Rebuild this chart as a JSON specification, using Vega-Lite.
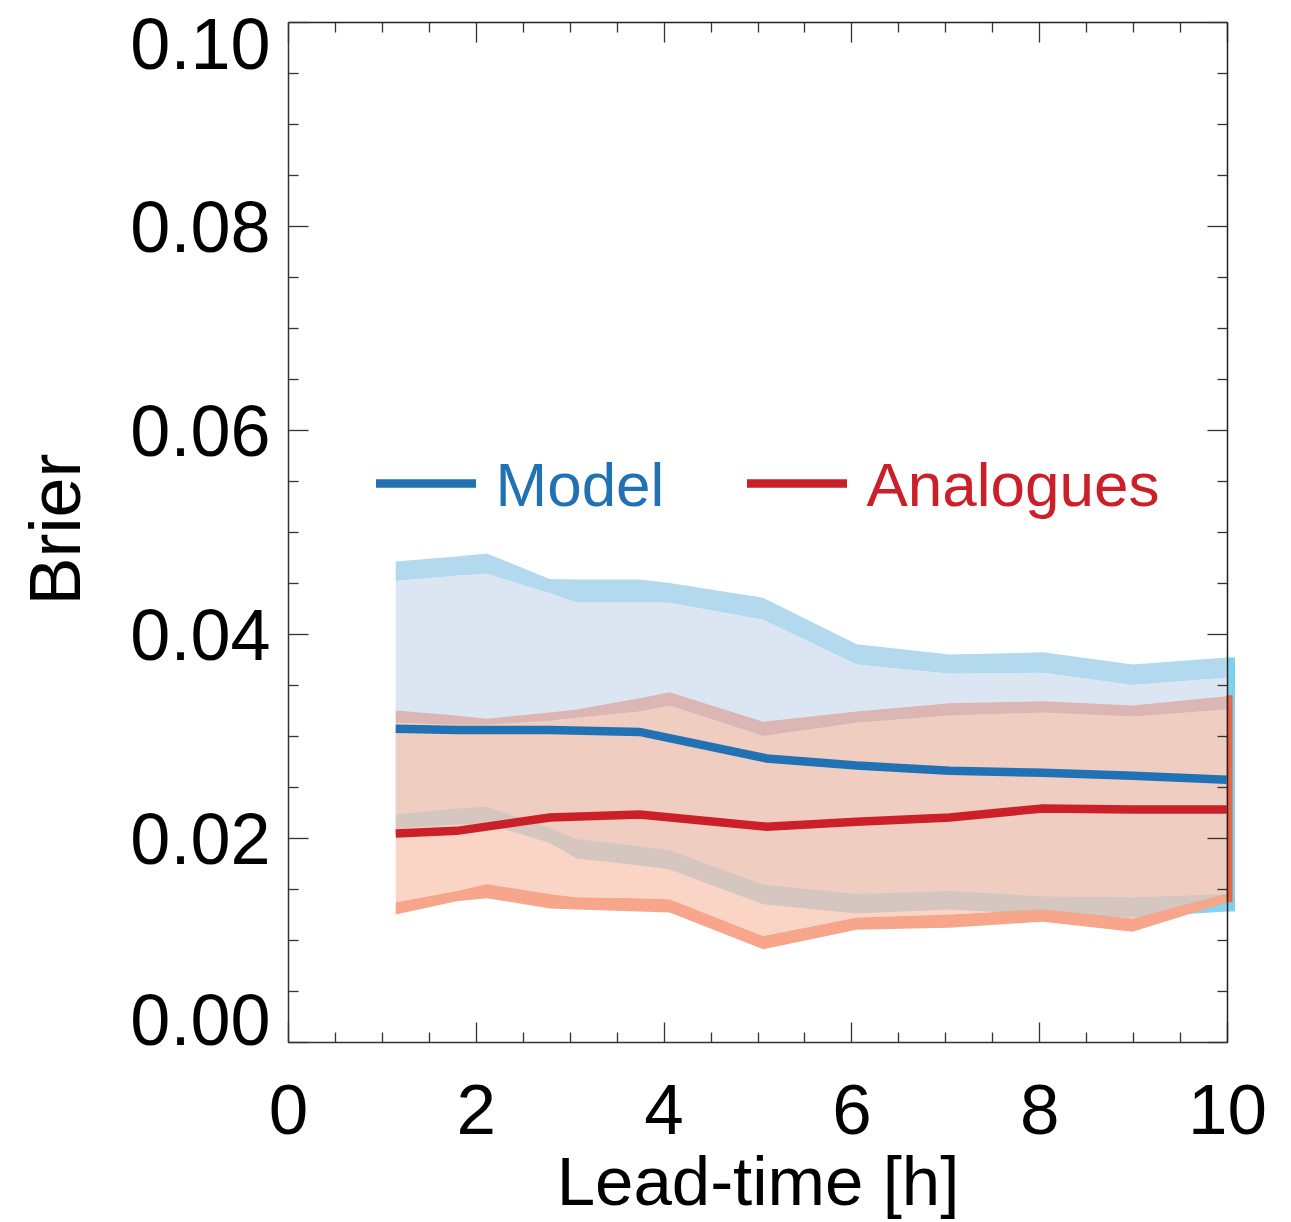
{
  "$schema": "https://vega.github.io/schema/vega-lite/v6.json",
  "width": 939,
  "height": 1020,
  "autosize": "none",
  "padding": {"left": 288, "top": 22, "right": 64, "bottom": 180},
  "background": "white",
  "config": {"view": {"stroke": null}, "font": "Liberation Sans"},
  "resolve": {"axis": {"x": "independent", "y": "independent"}},
  "datasets": {
    "bands": [
      {"s":"Model","part":"upper","x":1.147,"top":0.0471,"bot":0.0452},
      {"s":"Model","part":"upper","x":1.797,"top":0.0476,"bot":0.0457},
      {"s":"Model","part":"upper","x":2.117,"top":0.0479,"bot":0.0459},
      {"s":"Model","part":"upper","x":2.787,"top":0.0454,"bot":0.0440},
      {"s":"Model","part":"upper","x":3.074,"top":0.04535,"bot":0.0431},
      {"s":"Model","part":"upper","x":3.745,"top":0.04535,"bot":0.0431},
      {"s":"Model","part":"upper","x":4.065,"top":0.0450,"bot":0.04306},
      {"s":"Model","part":"upper","x":5.06,"top":0.04355,"bot":0.0414},
      {"s":"Model","part":"upper","x":6.056,"top":0.0390,"bot":0.0370},
      {"s":"Model","part":"upper","x":7.047,"top":0.0380,"bot":0.0361},
      {"s":"Model","part":"upper","x":8.038,"top":0.0382,"bot":0.0362},
      {"s":"Model","part":"upper","x":8.996,"top":0.0370,"bot":0.0350},
      {"s":"Model","part":"upper","x":9.997,"top":0.0377,"bot":0.0357},
      {"s":"Model","part":"lower","x":1.147,"top":0.0223,"bot":0.0209},
      {"s":"Model","part":"lower","x":1.797,"top":0.0229,"bot":0.0213},
      {"s":"Model","part":"lower","x":2.117,"top":0.0231,"bot":0.0214},
      {"s":"Model","part":"lower","x":2.787,"top":0.0210,"bot":0.0195},
      {"s":"Model","part":"lower","x":3.074,"top":0.0199,"bot":0.0180},
      {"s":"Model","part":"lower","x":3.745,"top":0.0192,"bot":0.0173},
      {"s":"Model","part":"lower","x":4.065,"top":0.0188,"bot":0.0169},
      {"s":"Model","part":"lower","x":5.06,"top":0.01545,"bot":0.0135},
      {"s":"Model","part":"lower","x":6.056,"top":0.0145,"bot":0.0126},
      {"s":"Model","part":"lower","x":7.047,"top":0.0148,"bot":0.0130},
      {"s":"Model","part":"lower","x":8.038,"top":0.0143,"bot":0.0125},
      {"s":"Model","part":"lower","x":8.996,"top":0.0142,"bot":0.0122},
      {"s":"Model","part":"lower","x":9.997,"top":0.0145,"bot":0.0128},
      {"s":"Model","part":"fill","x":1.147,"top":0.0452,"bot":0.0223},
      {"s":"Model","part":"fill","x":1.797,"top":0.0457,"bot":0.0229},
      {"s":"Model","part":"fill","x":2.117,"top":0.0459,"bot":0.0231},
      {"s":"Model","part":"fill","x":2.787,"top":0.0440,"bot":0.0210},
      {"s":"Model","part":"fill","x":3.074,"top":0.0431,"bot":0.0199},
      {"s":"Model","part":"fill","x":3.745,"top":0.0431,"bot":0.0192},
      {"s":"Model","part":"fill","x":4.065,"top":0.04306,"bot":0.0188},
      {"s":"Model","part":"fill","x":5.06,"top":0.0414,"bot":0.01545},
      {"s":"Model","part":"fill","x":6.056,"top":0.0370,"bot":0.0145},
      {"s":"Model","part":"fill","x":7.047,"top":0.0361,"bot":0.0148},
      {"s":"Model","part":"fill","x":8.038,"top":0.0362,"bot":0.0143},
      {"s":"Model","part":"fill","x":8.996,"top":0.0350,"bot":0.0142},
      {"s":"Model","part":"fill","x":9.997,"top":0.0357,"bot":0.0145},
      {"s":"Analogues","part":"upper","x":1.147,"top":0.0325,"bot":0.0313},
      {"s":"Analogues","part":"upper","x":1.797,"top":0.0320,"bot":0.0311},
      {"s":"Analogues","part":"upper","x":2.117,"top":0.0317,"bot":0.0311},
      {"s":"Analogues","part":"upper","x":2.787,"top":0.0323,"bot":0.0315},
      {"s":"Analogues","part":"upper","x":3.074,"top":0.0326,"bot":0.0318},
      {"s":"Analogues","part":"upper","x":3.745,"top":0.0337,"bot":0.0324},
      {"s":"Analogues","part":"upper","x":4.065,"top":0.0343,"bot":0.0330},
      {"s":"Analogues","part":"upper","x":5.06,"top":0.0314,"bot":0.0300},
      {"s":"Analogues","part":"upper","x":6.056,"top":0.0324,"bot":0.0313},
      {"s":"Analogues","part":"upper","x":7.047,"top":0.0332,"bot":0.0320},
      {"s":"Analogues","part":"upper","x":8.038,"top":0.0334,"bot":0.0323},
      {"s":"Analogues","part":"upper","x":8.996,"top":0.0330,"bot":0.0319},
      {"s":"Analogues","part":"upper","x":9.997,"top":0.0339,"bot":0.0326},
      {"s":"Analogues","part":"lower","x":1.147,"top":0.0137,"bot":0.0125},
      {"s":"Analogues","part":"lower","x":1.797,"top":0.0148,"bot":0.0138},
      {"s":"Analogues","part":"lower","x":2.117,"top":0.0155,"bot":0.0141},
      {"s":"Analogues","part":"lower","x":2.787,"top":0.0145,"bot":0.0131},
      {"s":"Analogues","part":"lower","x":3.074,"top":0.0142,"bot":0.0130},
      {"s":"Analogues","part":"lower","x":3.745,"top":0.0141,"bot":0.0128},
      {"s":"Analogues","part":"lower","x":4.065,"top":0.0140,"bot":0.0127},
      {"s":"Analogues","part":"lower","x":5.06,"top":0.0104,"bot":0.0091},
      {"s":"Analogues","part":"lower","x":6.056,"top":0.0122,"bot":0.0110},
      {"s":"Analogues","part":"lower","x":7.047,"top":0.0125,"bot":0.0112},
      {"s":"Analogues","part":"lower","x":8.038,"top":0.0130,"bot":0.0118},
      {"s":"Analogues","part":"lower","x":8.996,"top":0.0121,"bot":0.0108},
      {"s":"Analogues","part":"lower","x":9.997,"top":0.0145,"bot":0.0137},
      {"s":"Analogues","part":"fill","x":1.147,"top":0.0313,"bot":0.0137},
      {"s":"Analogues","part":"fill","x":1.797,"top":0.0311,"bot":0.0148},
      {"s":"Analogues","part":"fill","x":2.117,"top":0.0311,"bot":0.0155},
      {"s":"Analogues","part":"fill","x":2.787,"top":0.0315,"bot":0.0145},
      {"s":"Analogues","part":"fill","x":3.074,"top":0.0318,"bot":0.0142},
      {"s":"Analogues","part":"fill","x":3.745,"top":0.0324,"bot":0.0141},
      {"s":"Analogues","part":"fill","x":4.065,"top":0.0330,"bot":0.0140},
      {"s":"Analogues","part":"fill","x":5.06,"top":0.0300,"bot":0.0104},
      {"s":"Analogues","part":"fill","x":6.056,"top":0.0313,"bot":0.0122},
      {"s":"Analogues","part":"fill","x":7.047,"top":0.0320,"bot":0.0125},
      {"s":"Analogues","part":"fill","x":8.038,"top":0.0323,"bot":0.0130},
      {"s":"Analogues","part":"fill","x":8.996,"top":0.0319,"bot":0.0121},
      {"s":"Analogues","part":"fill","x":9.997,"top":0.0326,"bot":0.0145}
    ],
    "edges": [
      {"s":"Model","x":10,"top":0.0377,"bot":0.0128},
      {"s":"Analogues","x":10,"top":0.0340,"bot":0.0137}
    ],
    "lines": [
      {"s":"Model","x":1.147,"v":0.0307},
      {"s":"Model","x":1.797,"v":0.0306},
      {"s":"Model","x":2.787,"v":0.0306},
      {"s":"Model","x":3.745,"v":0.0304},
      {"s":"Model","x":5.098,"v":0.0278},
      {"s":"Model","x":6.056,"v":0.0271},
      {"s":"Model","x":7.047,"v":0.0266},
      {"s":"Model","x":8.038,"v":0.0264},
      {"s":"Model","x":8.996,"v":0.0261},
      {"s":"Model","x":9.997,"v":0.0257},
      {"s":"Analogues","x":1.147,"v":0.02045},
      {"s":"Analogues","x":1.797,"v":0.0207},
      {"s":"Analogues","x":2.787,"v":0.0220},
      {"s":"Analogues","x":3.745,"v":0.0223},
      {"s":"Analogues","x":5.098,"v":0.0211},
      {"s":"Analogues","x":6.056,"v":0.0216},
      {"s":"Analogues","x":7.047,"v":0.0220},
      {"s":"Analogues","x":8.038,"v":0.0229},
      {"s":"Analogues","x":8.996,"v":0.0228},
      {"s":"Analogues","x":9.997,"v":0.0228}
    ]
  },
  "layer": [
    {
      "data": {"name": "bands"},
      "transform": [{"filter": "datum.s === 'Model' && datum.part === 'fill'"}],
      "mark": {"type": "area", "color": "#dce6f2", "opacity": 1},
      "encoding": {
        "x": {"field": "x", "type": "quantitative", "scale": {"domain": [0, 10], "nice": false, "zero": false},
          "axis": {"orient": "bottom", "values": [0, 2, 4, 6, 8, 10], "format": "d", "ticks": false, "grid": false,
            "domain": true, "domainColor": "#333", "domainWidth": 1.5, "labelFontSize": 71, "labelPadding": 35,
            "labelFlush": false, "labelColor": "#000", "labelFont": "Liberation Sans", "title": "Lead-time [h]",
            "titleFontSize": 69, "titleFontWeight": "normal", "titleColor": "#000", "titleFont": "Liberation Sans",
            "titleX": 469.5, "titleY": 162, "titleBaseline": "alphabetic", "titleAlign": "center", "zindex": 1}},
        "y": {"field": "top", "type": "quantitative", "scale": {"domain": [0, 0.1], "nice": false, "zero": false},
          "axis": {"orient": "left", "values": [0, 0.02, 0.04, 0.06, 0.08, 0.1], "format": ".2f", "ticks": false, "grid": false,
            "domain": true, "domainColor": "#333", "domainWidth": 1.5, "labelFontSize": 72, "labelPadding": 18,
            "labelFlush": true, "labelFlushOffset": 14, "labelOffset": 3, "labelColor": "#000", "labelFont": "Liberation Sans",
            "title": "Brier", "titleFontSize": 72, "titleFontWeight": "normal", "titleColor": "#000", "titleFont": "Liberation Sans",
            "titleAngle": 270, "titleX": -209, "titleY": 507, "titleBaseline": "alphabetic", "titleAlign": "center", "zindex": 1}},
        "y2": {"field": "bot"}
      }
    },
    {
      "data": {"name": "bands"},
      "transform": [{"filter": "datum.s === 'Model' && datum.part === 'upper'"}],
      "mark": {"type": "area", "color": "#b3d9ee", "opacity": 1},
      "encoding": {
        "x": {"field": "x", "type": "quantitative", "scale": {"domain": [0, 10], "nice": false, "zero": false},
          "axis": {"orient": "bottom", "values": [0,0.5,1,1.5,2,2.5,3,3.5,4,4.5,5,5.5,6,6.5,7,7.5,8,8.5,9,9.5,10],
            "labels": false, "domain": false, "grid": false, "ticks": true, "tickColor": "#333", "tickWidth": 1.3,
            "tickSize": {"condition": {"test": "datum.value % 2 === 0", "value": -20}, "value": -10}, "title": null, "zindex": 1}},
        "y": {"field": "top", "type": "quantitative", "scale": {"domain": [0, 0.1], "nice": false, "zero": false},
          "axis": {"orient": "left", "values": [0,0.005,0.01,0.015,0.02,0.025,0.03,0.035,0.04,0.045,0.05,0.055,0.06,0.065,0.07,0.075,0.08,0.085,0.09,0.095,0.1],
            "labels": false, "domain": false, "grid": false, "ticks": true, "tickColor": "#333", "tickWidth": 1.3,
            "tickSize": {"condition": {"test": "round(datum.value*1000) % 20 === 0", "value": -20}, "value": -10}, "title": null, "zindex": 1}},
        "y2": {"field": "bot"}
      }
    },
    {
      "data": {"name": "bands"},
      "transform": [{"filter": "datum.s === 'Model' && datum.part === 'lower'"}],
      "mark": {"type": "area", "color": "#8bd1ec", "opacity": 1},
      "encoding": {
        "x": {"field": "x", "type": "quantitative", "scale": {"domain": [0, 10], "nice": false, "zero": false},
          "axis": {"orient": "top", "values": [0,0.5,1,1.5,2,2.5,3,3.5,4,4.5,5,5.5,6,6.5,7,7.5,8,8.5,9,9.5,10],
            "labels": false, "domain": true, "domainColor": "#222", "domainWidth": 1.5, "grid": false, "ticks": true, "tickColor": "#333", "tickWidth": 1.3,
            "tickSize": {"condition": {"test": "datum.value % 2 === 0", "value": -20}, "value": -10}, "title": null, "zindex": 1}},
        "y": {"field": "top", "type": "quantitative", "scale": {"domain": [0, 0.1], "nice": false, "zero": false},
          "axis": {"orient": "right", "values": [0,0.005,0.01,0.015,0.02,0.025,0.03,0.035,0.04,0.045,0.05,0.055,0.06,0.065,0.07,0.075,0.08,0.085,0.09,0.095,0.1],
            "labels": false, "domain": true, "domainColor": "#222", "domainWidth": 1.5, "grid": false, "ticks": true, "tickColor": "#333", "tickWidth": 1.3,
            "tickSize": {"condition": {"test": "round(datum.value*1000) % 20 === 0", "value": -20}, "value": -10}, "title": null, "zindex": 1}},
        "y2": {"field": "bot"}
      }
    },
    {
      "data": {"name": "edges"},
      "transform": [{"filter": "datum.s === 'Model'"}],
      "mark": {"type": "rule", "color": "#7fd0ec", "strokeWidth": 8, "xOffset": 4, "strokeCap": "butt"},
      "encoding": {
        "x": {"field": "x", "type": "quantitative", "scale": {"domain": [0, 10], "nice": false, "zero": false}, "axis": null},
        "y": {"field": "top", "type": "quantitative", "scale": {"domain": [0, 0.1], "nice": false, "zero": false}, "axis": null},
        "y2": {"field": "bot"}
      }
    },
    {
      "data": {"name": "bands"},
      "transform": [{"filter": "datum.s === 'Analogues' && datum.part === 'fill'"}],
      "mark": {"type": "area", "color": "#f8c1aa", "opacity": 0.68},
      "encoding": {
        "x": {"field": "x", "type": "quantitative", "scale": {"domain": [0, 10], "nice": false, "zero": false}, "axis": null},
        "y": {"field": "top", "type": "quantitative", "scale": {"domain": [0, 0.1], "nice": false, "zero": false}, "axis": null},
        "y2": {"field": "bot"}
      }
    },
    {
      "data": {"name": "bands"},
      "transform": [{"filter": "datum.s === 'Analogues' && datum.part === 'upper'"}],
      "mark": {"type": "area", "color": "#dcb6b3", "opacity": 1},
      "encoding": {
        "x": {"field": "x", "type": "quantitative", "scale": {"domain": [0, 10], "nice": false, "zero": false}, "axis": null},
        "y": {"field": "top", "type": "quantitative", "scale": {"domain": [0, 0.1], "nice": false, "zero": false}, "axis": null},
        "y2": {"field": "bot"}
      }
    },
    {
      "data": {"name": "bands"},
      "transform": [{"filter": "datum.s === 'Analogues' && datum.part === 'lower'"}],
      "mark": {"type": "area", "color": "#f7a68c", "opacity": 1},
      "encoding": {
        "x": {"field": "x", "type": "quantitative", "scale": {"domain": [0, 10], "nice": false, "zero": false}, "axis": null},
        "y": {"field": "top", "type": "quantitative", "scale": {"domain": [0, 0.1], "nice": false, "zero": false}, "axis": null},
        "y2": {"field": "bot"}
      }
    },
    {
      "data": {"name": "edges"},
      "transform": [{"filter": "datum.s === 'Analogues'"}],
      "mark": {"type": "rule", "color": "#e8674b", "strokeWidth": 6, "xOffset": 2.5, "strokeCap": "butt"},
      "encoding": {
        "x": {"field": "x", "type": "quantitative", "scale": {"domain": [0, 10], "nice": false, "zero": false}, "axis": null},
        "y": {"field": "top", "type": "quantitative", "scale": {"domain": [0, 0.1], "nice": false, "zero": false}, "axis": null},
        "y2": {"field": "bot"}
      }
    },
    {
      "data": {"name": "lines"},
      "mark": {"type": "line", "strokeWidth": 8.5, "strokeCap": "butt", "strokeJoin": "miter"},
      "encoding": {
        "x": {"field": "x", "type": "quantitative", "scale": {"domain": [0, 10], "nice": false, "zero": false}, "axis": null},
        "y": {"field": "v", "type": "quantitative", "scale": {"domain": [0, 0.1], "nice": false, "zero": false}, "axis": null},
        "color": {"field": "s", "type": "nominal",
          "scale": {"domain": ["Model", "Analogues"], "range": ["#2171b5", "#cb2027"]},
          "legend": {"title": null, "orient": "none", "legendX": 83.5, "legendY": 406.8, "direction": "horizontal",
            "padding": 0, "symbolType": "stroke", "symbolSize": 10000, "symbolStrokeWidth": 8.5,
            "labelFontSize": 62, "labelFont": "Liberation Sans", "labelOffset": 15, "labelLimit": 0,
            "columnPadding": 65,
            "encode": {"labels": {"update": {"fill": {"signal": "datum.value === 'Model' ? '#2171b5' : '#cb2027'"}, "dy": {"value": 3}}}}}}
      }
    }
  ]
}
